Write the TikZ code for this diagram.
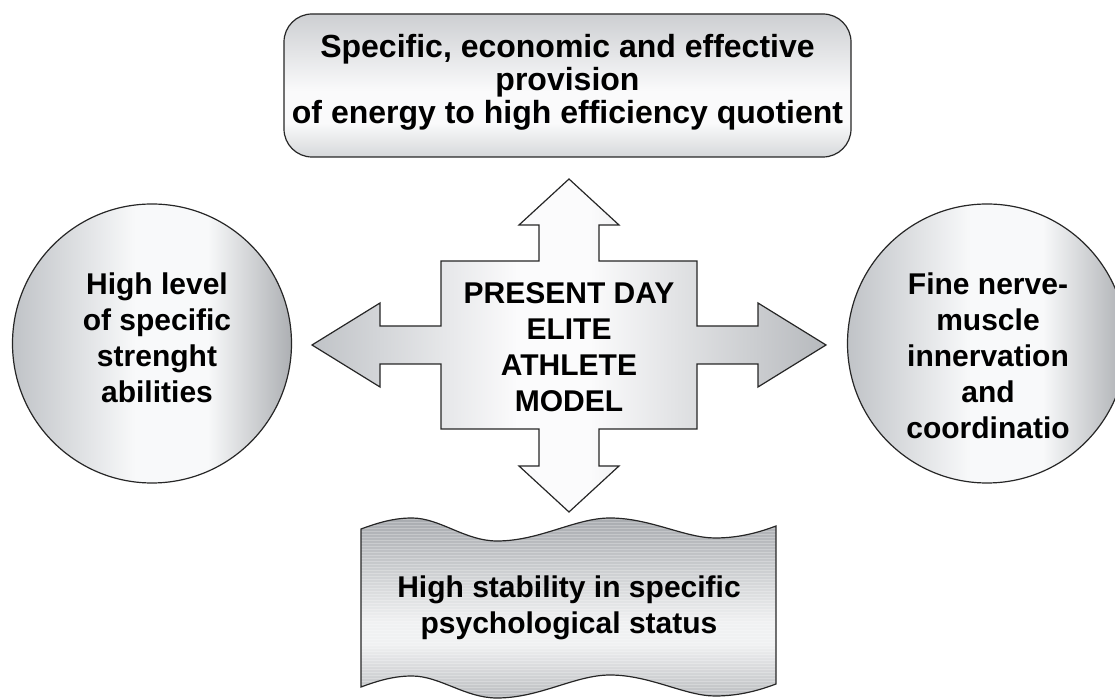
\documentclass[tikz,border=0pt]{standalone}
\usepackage{fontspec}
\setmainfont{Liberation Sans}
\usepackage{xcolor}
\usepackage{tikz}

\definecolor{ballgray}{RGB}{192,195,199}
\definecolor{balllight}{RGB}{248,249,250}
\definecolor{crossgray}{RGB}{192,195,199}
\definecolor{crosslight}{RGB}{251,251,252}
\definecolor{boxtop}{RGB}{205,207,210}
\definecolor{boxbot}{RGB}{214,216,218}
\definecolor{boxlight}{RGB}{250,250,251}
\definecolor{wavetop}{RGB}{168,171,175}
\definecolor{wavebot}{RGB}{186,188,191}
\definecolor{wavelight}{RGB}{240,241,242}

\pgfdeclarehorizontalshading{ballshade}{100bp}{color(0bp)=(ballgray); color(25bp)=(ballgray); color(47bp)=(balllight); color(60bp)=(balllight); color(75bp)=(ballgray!90!black); color(100bp)=(ballgray!90!black)}
\pgfdeclarehorizontalshading{crossshade}{100bp}{color(0bp)=(crossgray); color(25bp)=(crossgray); color(45bp)=(crosslight); color(52bp)=(crosslight); color(75bp)=(crossgray!95!black); color(100bp)=(crossgray!95!black)}
\pgfdeclareverticalshading{boxshade}{100bp}{color(0bp)=(boxbot); color(25bp)=(boxbot); color(37bp)=(boxlight); color(48bp)=(boxlight); color(75bp)=(boxtop); color(100bp)=(boxtop)}
\pgfdeclareverticalshading{waveshade}{100bp}{color(0bp)=(wavebot); color(25bp)=(wavebot); color(40bp)=(wavelight); color(46bp)=(wavelight); color(75bp)=(wavetop); color(100bp)=(wavetop)}

% outline of the banner at the bottom
\newcommand{\wavebanner}{(361,529) .. controls (380,522) and (395,518) .. (412,518)
    .. controls (440,518) and (465,541) .. (497,541)
    .. controls (540,541) and (575,518) .. (610,518)
    .. controls (650,518) and (685,538) .. (715,538)
    .. controls (740,538) and (760,532) .. (776,526)
    -- (776,684)
    .. controls (760,690) and (740,696) .. (715,696)
    .. controls (685,696) and (650,675) .. (610,675)
    .. controls (575,675) and (540,698) .. (497,698)
    .. controls (465,698) and (440,676) .. (412,676)
    .. controls (395,676) and (380,680) .. (361,687) -- cycle}

\tikzset{
    txt/.style={align=center, inner sep=0pt, font=\fontsize{15}{18}\selectfont\bfseries},
    ball/.style={circle, draw=black!85, line width=0.6pt, shading=ballshade, minimum size=139.5pt, inner sep=0pt},
    topbox/.style={rectangle, rounded corners=14pt, draw=black!85, line width=0.6pt, shading=boxshade,
        minimum width=283.5pt, minimum height=71.5pt, inner sep=0pt}
}

\begin{document}
\begin{tikzpicture}[x=0.5pt, y=-0.5pt]
        \clip (0,0) rectangle (1115,699);

        % top box
        \node[topbox] (energy) at (567.5,85.5) {};
        \node[txt, font=\fontsize{16}{16.5}\selectfont\bfseries] (energytxt) at (567.5,82) {Specific, economic and effective\\provision\\of energy to high efficiency quotient};

        % circles
        \node[ball] (strength) at (152,343.5) {};
        \node[txt] (strengthtxt) at (157,338) {High level\\of specific\\strenght\\abilities};
        \node[ball] (nerve) at (987,343.5) {};
        \node[txt] (nervetxt) at (988,356) {Fine nerve-\\muscle\\innervation\\and\\coordinatio};

        % centre cross
        \shadedraw[shading=crossshade, draw=black!85, line width=0.6pt]
            (569,179) -- (619,225) -- (599,225) -- (599,261) -- (697,261) -- (697,326)
            -- (758,326) -- (758,303) -- (826,345) -- (758,387) -- (758,364) -- (697,364)
            -- (697,429) -- (599,429) -- (599,466) -- (619,466) -- (569,512) -- (519,466)
            -- (539,466) -- (539,429) -- (441,429) -- (441,364) -- (380,364) -- (380,387)
            -- (312,345) -- (380,303) -- (380,326) -- (441,326) -- (441,261) -- (539,261)
            -- (539,225) -- (519,225) -- cycle;
        \node[txt] (model) at (569,347) {PRESENT DAY\\ELITE\\ATHLETE\\MODEL};

        % bottom banner
        \shade[shading=waveshade] \wavebanner;
        \begin{scope}
            \clip \wavebanner;
            \foreach \yy in {516,519,...,699}
                \draw[white, opacity=0.25, line width=0.4pt] (355,\yy) -- (780,\yy);
        \end{scope}
        \draw[black!85, line width=0.6pt] \wavebanner;
        \node[txt] (psych) at (569,608) {High stability in specific\\psychological status};
    \end{tikzpicture}
\end{document}
